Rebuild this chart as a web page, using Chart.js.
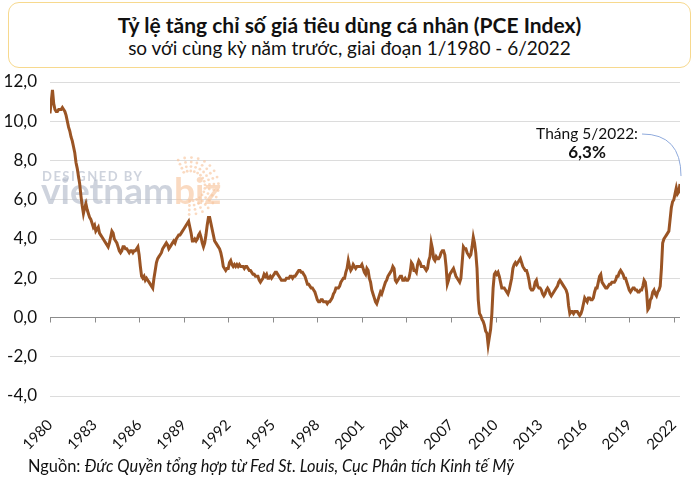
<!DOCTYPE html>
<html lang="vi">
<head>
<meta charset="utf-8">
<title>PCE Index</title>
<script src="https://cdn.jsdelivr.net/npm/chart.js@4.4.1/dist/chart.umd.min.js"></script>
<style>
    html, body { margin: 0; padding: 0; background: #fff; }
    body { width: 700px; height: 489px; position: relative; overflow: hidden; font-family: Lato, "Noto Sans", sans-serif; }
    #titleBox {
        position: absolute; left: 8px; top: 2px; width: 681px; height: 64px;
        border: 1.5px solid #f7d98e; border-radius: 11px; text-align: center; color: #111;
    }
    #titleBox .t1 { font-weight: bold; font-size: 21px; margin-top: 10px; line-height: 24px; }
    #titleBox .t2 { font-size: 19px; line-height: 22px; }
    #chartCanvas { position: absolute; left: 0; top: 0; }
    #source { position: absolute; left: 28px; top: 456px; font-size: 16.4px; color: #111; }
</style>
</head>
<body>
<div id="titleBox">
    <div class="t1">Tỷ lệ tăng chỉ số giá tiêu dùng cá nhân (PCE Index)</div>
    <div class="t2">so với cùng kỳ năm trước, giai đoạn 1/1980 - 6/2022</div>
</div>
<canvas id="chartCanvas" width="700" height="489"></canvas>
<div id="source">Nguồn: <i>Đức Quyền tổng hợp từ Fed St. Louis, Cục Phân tích Kinh tế Mỹ</i></div>

<script>
// ======================== Dữ liệu (% so với cùng kỳ, theo tháng) ========================

const startYear = 1980;
const tickYears = [1980, 1983, 1986, 1989, 1992, 1995, 1998, 2001, 2004, 2007, 2010, 2013, 2016, 2019, 2022];
const yTicks = [-4, -2, 0, 2, 4, 6, 8, 10, 12];

const pce1980s = [
    10.4, 11.0, 11.6, 10.9, 10.6, 10.5, 10.5, 10.6, 10.6, 10.6, 10.7, 10.6,
    10.5, 10.3, 10.0, 9.7, 9.5, 9.2, 9.0, 8.7, 8.4, 7.9, 7.6, 7.2,
    6.8, 6.2, 5.7, 5.3, 5.6, 5.8, 5.5, 5.3, 5.1, 5.0, 4.8, 4.6,
    4.7, 4.4, 4.5, 4.6, 4.3, 4.2, 4.1, 4.0, 3.9, 3.8, 3.7, 3.6,
    3.8, 4.1, 4.4, 4.3, 4.0, 3.9, 3.8, 3.6, 3.4, 3.3, 3.4, 3.6,
    3.6, 3.5, 3.5, 3.4, 3.3, 3.4, 3.4, 3.3, 3.4, 3.4, 3.5, 3.6,
    3.2, 2.6, 2.1, 2.0, 2.1, 1.9, 2.0, 1.9, 1.8, 1.7, 1.6, 1.5,
    2.0, 2.4, 2.8, 3.0, 3.1, 3.2, 3.3, 3.5, 3.6, 3.7, 3.8, 3.7,
    3.5, 3.6, 3.7, 3.8, 3.9, 3.8, 4.0, 4.1, 4.2, 4.2, 4.3, 4.4,
    4.5, 4.6, 4.7, 4.8, 4.9, 4.6, 4.3, 3.9, 3.9, 4.0, 3.9, 4.0
];
const pce1990s = [
    4.2, 4.3, 4.1, 3.8, 3.6, 3.8, 4.2, 4.7, 5.1, 5.1, 4.8, 4.5,
    4.2, 3.9, 3.8, 3.7, 3.6, 3.5, 3.3, 3.0, 2.6, 2.5, 2.4, 2.5,
    2.5, 2.8, 2.9, 2.7, 2.6, 2.7, 2.6, 2.7, 2.6, 2.7, 2.6, 2.6,
    2.6, 2.5, 2.6, 2.6, 2.5, 2.4, 2.4, 2.3, 2.2, 2.2, 2.1, 2.1,
    2.1, 1.9, 1.8, 1.9, 2.0, 2.2, 2.1, 2.2, 2.0, 2.0, 2.1, 2.0,
    2.1, 2.2, 2.3, 2.3, 2.2, 2.1, 2.0, 1.9, 1.9, 1.9, 1.9, 2.0,
    2.0, 2.0, 2.1, 2.1, 2.0, 2.1, 2.1, 2.2, 2.3, 2.4, 2.4, 2.3,
    2.3, 2.2, 2.1, 1.9, 1.7, 1.7, 1.6, 1.5, 1.5, 1.4, 1.3, 1.1,
    0.9, 0.8, 0.8, 0.9, 0.9, 0.8, 0.8, 0.8, 0.7, 0.8, 0.8, 0.9,
    1.0, 1.2, 1.3, 1.5, 1.5, 1.5, 1.6, 1.8, 1.9, 2.0, 2.0, 2.3
];
const pce2000s = [
    2.5, 2.9, 2.6, 2.4, 2.5, 2.7, 2.6, 2.5, 2.6, 2.6, 2.6, 2.6,
    2.7, 2.5, 2.3, 2.2, 2.5, 2.4, 2.0, 1.8, 1.4, 1.2, 1.0, 0.8,
    0.7, 0.9, 1.1, 1.3, 1.2, 1.4, 1.6, 1.8, 1.9, 2.1, 2.2, 2.3,
    2.4, 2.6, 2.5, 1.9, 1.8, 1.9, 2.0, 2.1, 2.1, 1.9, 1.9, 2.0,
    1.9, 1.9, 2.0, 2.3, 2.8, 2.7, 2.4, 2.4, 2.3, 2.7, 2.9, 2.8,
    2.6, 2.6, 2.6, 2.5, 2.4, 2.5, 2.9, 3.1, 3.8, 3.5, 3.0, 2.9,
    3.1, 3.0, 3.0, 3.1, 3.3, 3.4, 3.4, 3.2, 2.6, 1.7, 1.9, 2.2,
    2.3, 2.4, 2.5, 2.3, 2.1, 2.0, 1.9, 1.8, 2.0, 2.8, 3.6, 3.5,
    3.5, 3.3, 3.2, 3.1, 3.2, 3.6, 4.1, 3.8, 3.3, 2.5, 0.9, 0.2,
    0.1, -0.1, -0.2, -0.4, -0.7, -0.8, -1.4, -1.0, -0.6, 0.2, 1.5, 2.2
];
const pce2010s = [
    2.3, 2.2, 2.3, 2.1, 1.8, 1.5, 1.5, 1.5, 1.4, 1.3, 1.2, 1.4,
    1.7, 2.0, 2.5, 2.7, 2.8, 2.7, 2.8, 2.9, 3.0, 2.8, 2.6, 2.5,
    2.4, 2.4, 2.2, 1.9, 1.5, 1.4, 1.4, 1.5, 1.8, 1.9, 1.6, 1.5,
    1.5, 1.4, 1.2, 1.1, 1.2, 1.4, 1.5, 1.4, 1.2, 1.1, 1.2, 1.3,
    1.4, 1.5, 1.6, 1.8, 1.9, 1.8, 1.7, 1.6, 1.5, 1.4, 1.2, 0.6,
    0.2, 0.3, 0.3, 0.2, 0.3, 0.3, 0.3, 0.2, 0.1, 0.2, 0.4, 0.7,
    1.0, 0.9, 0.8, 1.0, 1.0, 0.9, 0.9, 1.0, 1.3, 1.5, 1.5, 1.8,
    2.1, 2.2, 1.8, 1.7, 1.6, 1.5, 1.5, 1.6, 1.7, 1.7, 1.8, 1.8,
    1.8, 1.9, 2.1, 2.1, 2.3, 2.4, 2.3, 2.2, 2.0, 2.0, 1.8, 1.6,
    1.4, 1.3, 1.4, 1.5, 1.5, 1.4, 1.4, 1.3, 1.3, 1.4, 1.4, 1.6
];
const pce2020s = [
    1.9, 1.8, 1.3, 0.4, 0.5, 0.9, 1.0, 1.3, 1.4, 1.2, 1.1, 1.3,
    1.4, 1.6, 2.5, 3.8, 4.0, 4.1, 4.2, 4.3, 4.4, 5.0, 5.6, 5.9,
    6.0, 6.3, 6.6, 6.3, 6.4, 6.8
];

// Ghi chú tháng 5/2022
const noteLabel = 'Tháng 5/2022:';
const noteValue = '6,3%';

const pceValues = [].concat(pce1980s, pce1990s, pce2000s, pce2010s, pce2020s);
const monthLabels = pceValues.map((v, i) => (i % 12 + 1) + '/' + (startYear + Math.floor(i / 12)));
const points = pceValues.map((v, i) => ({ x: i, y: v }));

// ======================== Plugin vẽ thêm ========================

// Vạch chia trên đường 0, logo mờ và ghi chú
const decorPlugin = {
    id: 'decor',
    beforeDatasetsDraw(chart) {
        const { ctx, scales: { x, y } } = chart;
        const y0 = y.getPixelForValue(0);
        ctx.save();
        ctx.strokeStyle = '#8c8c8c';
        ctx.lineWidth = 1;
        tickYears.forEach(yr => {
            const px = Math.round(x.getPixelForValue((yr - startYear) * 12)) + 0.5;
            ctx.beginPath();
            ctx.moveTo(px, y0);
            ctx.lineTo(px, y0 + 5);
            ctx.stroke();
        });

        // watermark
        ctx.globalAlpha = 0.65;
        ctx.fillStyle = '#b3bccb';
        ctx.font = 'bold 13px Lato';
        ctx.textBaseline = 'alphabetic';
        ctx.letterSpacing = '1.5px';
        ctx.fillText('DESIGNED BY', 42, 181);
        ctx.letterSpacing = '0px';
        ctx.font = 'bold 37px Lato';
        ctx.fillText('vietnam', 41, 204);
        const w = ctx.measureText('vietnam').width;
        ctx.fillStyle = '#f7c6a0';
        ctx.fillText('biz', 41 + w, 204);
        // vòng chấm
        for (let r = 0; r < 4; r++) {
            for (let k = 0; k < 16; k++) {
                const a = -2.0 + k * 0.24;
                const rad = 15 + r * 4.5;
                ctx.beginPath();
                ctx.arc(190 + Math.cos(a) * rad, 186 + Math.sin(a) * rad, 1.4, 0, Math.PI * 2);
                ctx.fill();
            }
        }
        ctx.restore();
    },
    afterDraw(chart) {
        const { ctx, scales: { x, y } } = chart;
        ctx.save();
        ctx.fillStyle = '#111';
        ctx.textAlign = 'right';
        ctx.textBaseline = 'middle';
        ctx.font = '15.5px Lato';
        const lx = 638, ly = 134;
        ctx.fillText(noteLabel, lx, ly);
        ctx.textAlign = 'center';
        ctx.font = 'bold 17px Lato';
        ctx.fillText(noteValue, 587, 153);

        // đường nối cong
        const ex = x.getPixelForValue(pceValues.length - 1) + 1;
        const ey = y.getPixelForValue(pceValues[pceValues.length - 1]) - 8;
        ctx.strokeStyle = '#8faadc';
        ctx.lineWidth = 1;
        ctx.beginPath();
        ctx.moveTo(lx + 4, ly);
        ctx.quadraticCurveTo(ex, ly, ex, ey);
        ctx.stroke();
        ctx.restore();
    }
};

// ======================== Biểu đồ ========================

const ctx = document.getElementById('chartCanvas').getContext('2d');
new Chart(ctx, {
    type: 'line',
    data: {
        labels: monthLabels,
        datasets: [{
            label: 'PCE',
            data: points,
            borderColor: '#9a5424',
            borderWidth: 3,
            pointRadius: 0,
            tension: 0,
            fill: false
        }]
    },
    options: {
        responsive: false,
        animation: false,
        layout: { padding: { top: 82, left: 2, right: 20, bottom: 30 } },
        plugins: {
            legend: { display: false },
            tooltip: { enabled: false }
        },
        scales: {
            x: {
                type: 'linear',
                min: 0,
                max: pceValues.length - 1,
                afterBuildTicks(scale) {
                    scale.ticks = tickYears.map(yr => ({ value: (yr - startYear) * 12 }));
                },
                // không chừa chỗ cho nhãn xoay ở mép trái, cố định chiều cao trục
                afterFit(scale) {
                    scale.paddingLeft = 0;
                    scale.paddingRight = 0;
                    scale.height = 63;
                },
                grid: { display: false },
                border: { display: false },
                ticks: {
                    autoSkip: false,
                    maxRotation: 45,
                    minRotation: 45,
                    padding: 12,
                    color: '#111',
                    font: { family: 'Lato', size: 15 },
                    callback: v => String(startYear + v / 12)
                }
            },
            y: {
                min: -4,
                max: 12,
                afterBuildTicks(scale) {
                    scale.ticks = yTicks.map(v => ({ value: v }));
                },
                afterFit(scale) {
                    scale.width = 48;
                },
                grid: {
                    drawTicks: false,
                    color: c => (c.tick && c.tick.value === 0) ? '#8c8c8c' : '#dcdcdc'
                },
                border: { display: false },
                ticks: {
                    padding: 13,
                    color: '#111',
                    font: { family: 'Lato', size: 17 },
                    callback: v => v.toFixed(1).replace('.', ',')
                }
            }
        }
    },
    plugins: [decorPlugin]
});
</script>
</body>
</html>
